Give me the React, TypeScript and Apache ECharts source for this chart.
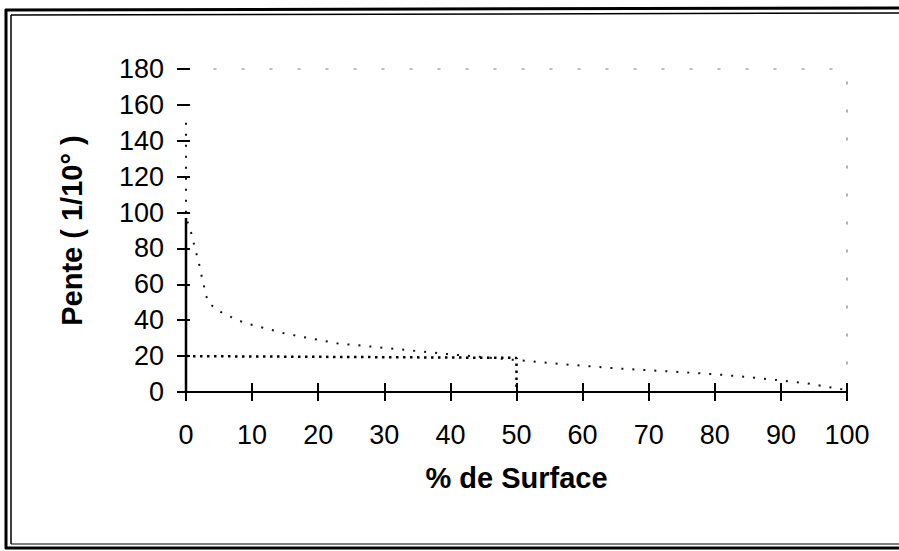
import React, { useEffect, useRef } from "react";
import * as echarts from "echarts";

// % de surface (x) and slope in 1/10 degree (y) for the main curve
const pctSurface = [0, 0, 0.7, 1.5, 1.9, 2.2, 2.6, 2.9, 3.4, 5.5, 8.9, 15.2, 23.3, 25, 40, 52.5, 58, 65, 74.4, 80, 86, 94, 100];
const pente = [150, 97, 90, 78, 73, 67, 61.5, 55.5, 49.5, 44, 38.4, 32.4, 26.8, 26.4, 21, 17, 15.2, 13.2, 11.2, 9.9, 8, 4.8, 1];

// median marker (50 % of the surface)
const medianX = [0, 50, 50];
const medianY = [20, 19, 0];

// visible (solid) part of the vertical axis in the scan
const axisSolidX = [0, 0];
const axisSolidY = [0, 97];

const X_MIN = 0, X_MAX = 100, X_STEP = 10;
const Y_MIN = 0, Y_MAX = 180, Y_STEP = 20;

const FONT = "'Liberation Sans', Arial, sans-serif";

export default function App() {
  const ref = useRef<HTMLDivElement>(null);
  useEffect(() => {
    if (!ref.current) return;
    const chart = echarts.init(ref.current, undefined, { renderer: "svg" });
    const xBase = { type: "value", min: X_MIN, max: X_MAX, interval: X_STEP, splitLine: { show: false } };
    const yBase = { type: "value", min: Y_MIN, max: Y_MAX, interval: Y_STEP, splitLine: { show: false } };
    chart.setOption({
      animation: false,
      backgroundColor: "#fff",
      grid: { left: 186, right: 52, top: 69, bottom: 159 },
      xAxis: [
        {
          ...xBase,
          position: "bottom",
          name: "% de Surface",
          nameLocation: "middle",
          nameGap: 71,
          nameTextStyle: { fontFamily: FONT, fontSize: 29, fontWeight: "bold", color: "#000" },
          axisLine: { show: true, onZero: false, lineStyle: { color: "#000", width: 2 } },
          axisTick: { show: true, inside: false, length: 9, lineStyle: { color: "#000", width: 2 } },
          axisLabel: { fontFamily: FONT, fontSize: 27, color: "#000", margin: 29 },
        },
        {
          ...xBase,
          position: "bottom",
          offset: 0,
          axisLine: { show: false, onZero: false },
          axisTick: { show: true, inside: true, length: 9, lineStyle: { color: "#000", width: 2 } },
          axisLabel: { show: false },
        },
        {
          ...xBase,
          position: "top",
          offset: 0,
          axisLine: { show: true, onZero: false, lineStyle: { color: "#aaa", width: 1.5, type: [2, 26] } },
          axisTick: { show: false },
          axisLabel: { show: false },
        },
      ],
      yAxis: [
        {
          ...yBase,
          position: "left",
          name: "Pente ( 1/10° )",
          nameLocation: "middle",
          nameGap: 100,
          nameRotate: 90,
          nameTextStyle: { fontFamily: FONT, fontSize: 29, fontWeight: "bold", color: "#000" },
          axisLine: { show: false, onZero: false },
          axisTick: { show: true, inside: false, length: 9, lineStyle: { color: "#000", width: 2 } },
          axisLabel: { fontFamily: FONT, fontSize: 27, color: "#000", margin: 22 },
        },
        {
          ...yBase,
          position: "left",
          offset: 0,
          axisLine: { show: false, onZero: false },
          axisTick: { show: true, inside: true, length: 4, lineStyle: { color: "#000", width: 2 } },
          axisLabel: { show: false },
        },
        {
          ...yBase,
          position: "right",
          offset: 0,
          axisLine: { show: true, onZero: false, lineStyle: { color: "#999", width: 1.5, type: [2, 26] } },
          axisTick: { show: false },
          axisLabel: { show: false },
        },
      ],
      series: [
        {
          name: "axe",
          type: "line",
          xAxisIndex: 0,
          yAxisIndex: 0,
          data: axisSolidX.map((x, i) => [x, axisSolidY[i]]),
          showSymbol: false,
          lineStyle: { color: "#000", width: 2.5 },
          silent: true,
        },
        {
          name: "Pente",
          type: "line",
          xAxisIndex: 0,
          yAxisIndex: 0,
          data: pctSurface.map((x, i) => [x, pente[i]]),
          showSymbol: false,
          lineStyle: { color: "#111", width: 2, type: [2, 9] },
          silent: true,
        },
        {
          name: "Médiane",
          type: "line",
          xAxisIndex: 0,
          yAxisIndex: 0,
          data: medianX.map((x, i) => [x, medianY[i]]),
          showSymbol: false,
          lineStyle: { color: "#000", width: 2.5, type: [2.5, 4.5] },
          silent: true,
        },
      ],
      graphic: [
        { type: "line", shape: { x1: 5, y1: 10, x2: 899, y2: 8 }, style: { stroke: "#000", lineWidth: 3 } },
        { type: "line", shape: { x1: 11, y1: 15, x2: 899, y2: 13 }, style: { stroke: "#000", lineWidth: 1.5 } },
        { type: "line", shape: { x1: 6, y1: 9, x2: 6, y2: 549 }, style: { stroke: "#000", lineWidth: 3 } },
        { type: "line", shape: { x1: 11, y1: 15, x2: 11, y2: 544 }, style: { stroke: "#000", lineWidth: 1.5 } },
        { type: "line", shape: { x1: 5, y1: 548, x2: 899, y2: 548 }, style: { stroke: "#000", lineWidth: 3 } },
        { type: "line", shape: { x1: 11, y1: 544, x2: 899, y2: 544 }, style: { stroke: "#000", lineWidth: 1 } },
      ],
    });
    return () => chart.dispose();
  }, []);
  return <div ref={ref} style={{ position: "fixed", left: 0, top: 0, width: 899, height: 551 }} />;
}
